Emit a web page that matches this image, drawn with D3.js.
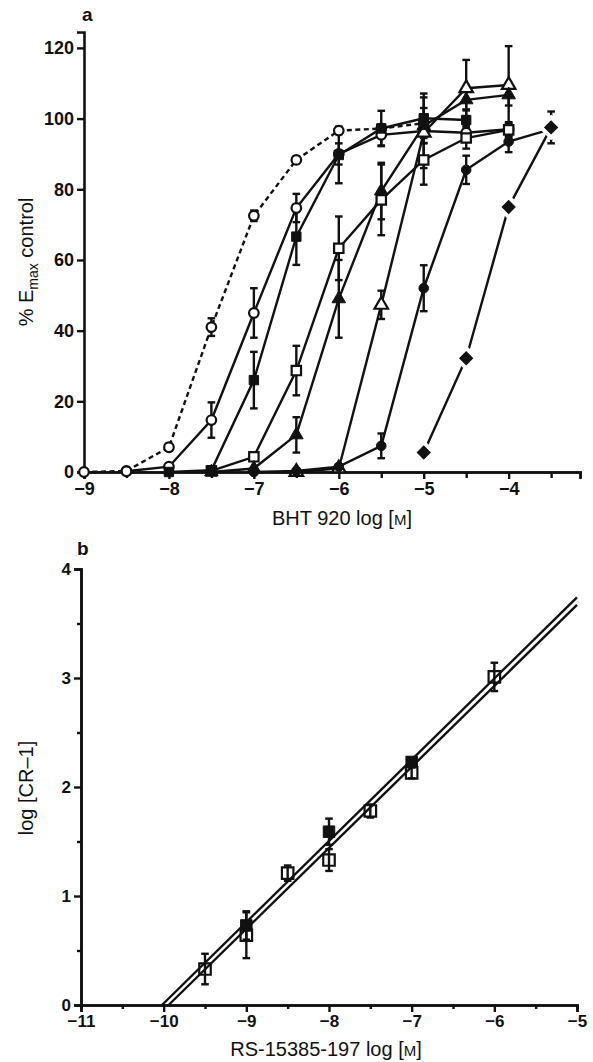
<!DOCTYPE html>
<html>
<head>
<meta charset="utf-8">
<script src="https://cdn.jsdelivr.net/npm/d3@7"></script>
<style>
body { margin: 0; background: #fff; }
text { font-family: "Liberation Sans", Arial, sans-serif; fill: #111; }
.tk text { font-weight: bold; }
</style>
</head>
<body>
<div id="chart"></div>
<script>
// ---- panel a : % Emax control vs BHT 920 log [M]
var ctrlDose = [-9, -8.5, -8, -7.5, -7, -6.5, -6, -5.5, -5];
var ctrlResp = [0, 0.3, 7, 41, 72.5, 88.3, 96.6, 97.2, 98.7];
var ctrlSem  = [0, 0, 1, 2.5, 1.5, 1, 1, 0, 0];

var ocDose = [-8.5, -8, -7.5, -7, -6.5, -6, -5.5, -5, -4.5, -4];
var ocResp = [0.2, 1.5, 14.7, 45, 74.7, 90, 95.4, 96.5, 96, 97];
var ocSem  = [0, 0, 5, 7, 4, 3, 3, 2, 2, 2];

var osDose = [-7.5, -7, -6.5, -6, -5.5, -5, -4.5, -4];
var osResp = [0.3, 4.3, 28.7, 63.3, 77, 88.3, 94.5, 96.8];
var osSem  = [0, 1, 7, 9, 10, 7, 3, 2];

var otDose = [-6.5, -6, -5.5, -5, -4.5, -4];
var otResp = [0, 1, 47.3, 96, 108.6, 109.5];
var otSem  = [0, 0, 4, 10, 8, 11];

var fsDose = [-8, -7.5, -7, -6.5, -6, -5.5, -5, -4.5];
var fsResp = [0, 0.5, 26, 66.6, 89.7, 97.2, 100.1, 99.6];
var fsSem  = [0, 0, 8, 8, 8, 5, 7, 3];

var ftDose = [-7.5, -7, -6.5, -6, -5.5, -5, -4.5, -4];
var ftResp = [0, 1, 10.5, 49, 79.5, 98, 105.3, 106.7];
var ftSem  = [0, 0, 5, 11, 8, 5, 3, 3];

var fcDose = [-7, -6.5, -6, -5.5, -5, -4.5, -4, -3.5];
var fcResp = [0, 0.3, 1.5, 7.4, 52, 85.5, 93.5, 97];
var fcSem  = [0, 0, 0, 3.5, 6.5, 4, 3, 0];

var fdDose = [-5, -4.5, -4, -3.5];
var fdResp = [5.5, 32.2, 75, 97.5];
var fdSem  = [0, 0, 1, 4.5];

var aXTicks = [-9, -8, -7, -6, -5, -4];
var aXMinor = [-8.5, -7.5, -6.5, -5.5, -4.5, -3.5];
var aYTicks = [0, 20, 40, 60, 80, 100, 120];

// ---- panel b : Schild plot
var bOpenDose = [-9.5, -9, -8.5, -8, -7.5, -7, -6];
var bOpenLog  = [0.33, 0.64, 1.21, 1.33, 1.78, 2.13, 3.01];
var bOpenSem  = [0.14, 0.21, 0.07, 0.10, 0.06, 0.05, 0.13];
var bFillDose = [-9, -8, -7];
var bFillLog  = [0.73, 1.59, 2.23];
var bFillSem  = [0.13, 0.12, 0.03];
var fitSlope  = [0.745, 0.743];
var fitXZero  = [-10.02, -9.94];

var bXTicks = [-11, -10, -9, -8, -7, -6, -5];
var bXMinor = [-10.5, -9.5, -8.5, -7.5, -6.5, -5.5];
var bYTicks = [0, 1, 2, 3, 4];
var bYMinor = [0.5, 1.5, 2.5, 3.5];

var W = 593, H = 1062;
var svg = d3.select("#chart").append("svg")
  .attr("width", W).attr("height", H)
  .style("background", "#fff");

var minus = function(d) { return d < 0 ? "\u2212" + Math.abs(d) : String(d); };

// make the d3 axis look like the printed one
function styleAxis(g, size) {
  g.attr("class", "tk").attr("font-size", null).attr("font-family", null);
  g.select(".domain").attr("stroke-width", 2.6).attr("stroke", "#111");
  g.selectAll(".tick line").attr("stroke-width", 2.4).attr("stroke", "#111");
  g.selectAll(".tick text")
    .attr("fill", "#111")
    .style("font-size", size + "px")
    .style("font-weight", "bold")
    .style("font-family", '"Liberation Sans", Arial, sans-serif');
}

// ================= panel a
var xA = d3.scaleLinear().domain([-9, -3.16]).range([84, 580]);
var yA = d3.scaleLinear().domain([0, 124.5]).range([472, 32]);

var ga = svg.append("g");

ga.append("g").attr("transform", "translate(0," + yA(0) + ")")
  .call(d3.axisBottom(xA).tickValues(aXTicks).tickSize(7).tickPadding(3).tickFormat(minus))
  .call(styleAxis, 18);
ga.append("g").attr("transform", "translate(0," + yA(0) + ")")
  .call(d3.axisBottom(xA).tickValues(aXMinor).tickSize(6).tickFormat(""))
  .call(styleAxis, 18);
ga.append("g").attr("transform", "translate(" + xA(-9) + ",0)")
  .call(d3.axisLeft(yA).tickValues(aYTicks).tickSize(7).tickPadding(3).tickFormat(minus))
  .call(styleAxis, 18);

var seriesA = [
  {dose: ctrlDose, resp: ctrlResp, sem: ctrlSem, sym: "circle", fill: "#fff", dash: "5,3.5"},
  {dose: ocDose, resp: ocResp, sem: ocSem, sym: "circle", fill: "#fff"},
  {dose: osDose, resp: osResp, sem: osSem, sym: "square", fill: "#fff"},
  {dose: otDose, resp: otResp, sem: otSem, sym: "triangle", fill: "#fff"},
  {dose: fsDose, resp: fsResp, sem: fsSem, sym: "square", fill: "#111"},
  {dose: ftDose, resp: ftResp, sem: ftSem, sym: "triangle", fill: "#111"},
  {dose: fcDose, resp: fcResp, sem: fcSem, sym: "circle", fill: "#111"},
  {dose: fdDose, resp: fdResp, sem: fdSem, sym: "diamond", fill: "#111"}
];
seriesA.forEach(function(s) {
  s.pts = s.dose.map(function(d, i) { return {x: d, y: s.resp[i], e: s.sem[i]}; });
});

var lineA = d3.line().x(function(p) { return xA(p.x); }).y(function(p) { return yA(p.y); });

// lines
seriesA.forEach(function(s) {
  ga.append("path").datum(s.pts)
    .attr("d", lineA)
    .attr("fill", "none")
    .attr("stroke", "#111")
    .attr("stroke-width", 2.4)
    .attr("stroke-dasharray", s.dash || null);
});

// error bars
function errorBars(g, pts, xs, ys, cap) {
  var eb = g.append("g").attr("stroke", "#111").attr("stroke-width", 2.4);
  pts.filter(function(p) { return p.e > 0; }).forEach(function(p) {
    var cx = xs(p.x), y1 = ys(p.y + p.e), y2 = ys(p.y - p.e);
    eb.append("line").attr("x1", cx).attr("x2", cx).attr("y1", y1).attr("y2", y2);
    eb.append("line").attr("x1", cx - cap).attr("x2", cx + cap).attr("y1", y1).attr("y2", y1);
    eb.append("line").attr("x1", cx - cap).attr("x2", cx + cap).attr("y1", y2).attr("y2", y2);
  });
}
seriesA.forEach(function(s) { errorBars(ga, s.pts, xA, yA, 3.8); });

// markers
var symType = {circle: d3.symbolCircle, square: d3.symbolSquare, triangle: d3.symbolTriangle, diamond: d3.symbolSquare};
var symSize = {circle: 72, square: 88, triangle: 80, diamond: 84};
seriesA.forEach(function(s) {
  var path = d3.symbol().type(symType[s.sym]).size(symSize[s.sym])();
  var rot = s.sym === "diamond" ? " rotate(45)" : "";
  var m = ga.append("g");
  if (s.sym === "diamond") {
    // white halo leaves the small gaps round the diamonds
    m.selectAll("path.halo").data(s.pts).enter().append("path")
      .attr("d", path)
      .attr("transform", function(p) { return "translate(" + xA(p.x) + "," + yA(p.y) + ")" + rot; })
      .attr("fill", "#fff").attr("stroke", "#fff").attr("stroke-width", 9);
  }
  m.selectAll("path.mk").data(s.pts).enter().append("path")
    .attr("d", path)
    .attr("transform", function(p) { return "translate(" + xA(p.x) + "," + yA(p.y) + ")" + rot; })
    .attr("fill", s.fill)
    .attr("stroke", "#111")
    .attr("stroke-width", s.fill === "#fff" ? 2.2 : 1);
});

ga.append("text").attr("x", 82).attr("y", 21)
  .style("font-size", "19px").style("font-weight", "bold").text("a");

ga.append("text").attr("x", 342).attr("y", 525).attr("text-anchor", "middle")
  .style("font-size", "20px")
  .text("BHT 920 log [").append("tspan").style("font-size", "15px").text("M")
  .select(function() { return this.parentNode; }).append("tspan").text("]");

var yt = ga.append("text").attr("transform", "translate(33,262) rotate(-90)")
  .attr("text-anchor", "middle").style("font-size", "20px");
yt.append("tspan").text("% E");
yt.append("tspan").attr("dy", 5).style("font-size", "14px").text("max");
yt.append("tspan").attr("dy", -5).text(" control");

// ================= panel b
var xB = d3.scaleLinear().domain([-11, -5]).range([81, 577]);
var yB = d3.scaleLinear().domain([0, 4]).range([1005, 569]);

var gb = svg.append("g");
gb.append("g").attr("transform", "translate(0," + yB(0) + ")")
  .call(d3.axisBottom(xB).tickValues(bXTicks).tickSize(7).tickPadding(3).tickFormat(minus))
  .call(styleAxis, 17);
gb.append("g").attr("transform", "translate(0," + yB(0) + ")")
  .call(d3.axisBottom(xB).tickValues(bXMinor).tickSize(4).tickFormat(""))
  .call(styleAxis, 17);
gb.append("g").attr("transform", "translate(" + xB(-11) + ",0)")
  .call(d3.axisLeft(yB).tickValues(bYTicks).tickSize(7).tickPadding(3).tickFormat(minus))
  .call(styleAxis, 17);
gb.append("g").attr("transform", "translate(" + xB(-11) + ",0)")
  .call(d3.axisLeft(yB).tickValues(bYMinor).tickSize(4).tickFormat(""))
  .call(styleAxis, 17);

// regression lines
fitSlope.forEach(function(k, i) {
  var x0 = fitXZero[i];
  var pts = [{x: x0, y: 0}, {x: -5, y: k * (-5 - x0)}];
  gb.append("path").datum(pts)
    .attr("d", d3.line().x(function(p) { return xB(p.x); }).y(function(p) { return yB(p.y); }))
    .attr("fill", "none").attr("stroke", "#111").attr("stroke-width", 2.4);
});

var bOpen = bOpenDose.map(function(d, i) { return {x: d, y: bOpenLog[i], e: bOpenSem[i]}; });
var bFill = bFillDose.map(function(d, i) { return {x: d, y: bFillLog[i], e: bFillSem[i]}; });
errorBars(gb, bOpen, xB, yB, 3.8);
errorBars(gb, bFill, xB, yB, 3.8);

var sq = d3.symbol().type(d3.symbolSquare).size(132)();
gb.selectAll("path.op").data(bOpen).enter().append("path")
  .attr("d", sq)
  .attr("transform", function(p) { return "translate(" + xB(p.x) + "," + yB(p.y) + ")"; })
  .attr("fill", "none").attr("stroke", "#111").attr("stroke-width", 2.2);
gb.selectAll("path.fp").data(bFill).enter().append("path")
  .attr("d", sq)
  .attr("transform", function(p) { return "translate(" + xB(p.x) + "," + yB(p.y) + ")"; })
  .attr("fill", "#111").attr("stroke", "#111").attr("stroke-width", 1);

gb.append("text").attr("x", 77).attr("y", 555)
  .style("font-size", "19px").style("font-weight", "bold").text("b");

gb.append("text").attr("x", 326).attr("y", 1056).attr("text-anchor", "middle")
  .style("font-size", "20px")
  .text("RS-15385-197 log [").append("tspan").style("font-size", "15px").text("M")
  .select(function() { return this.parentNode; }).append("tspan").text("]");

gb.append("text").attr("transform", "translate(33,788) rotate(-90)")
  .attr("text-anchor", "middle").style("font-size", "20px")
  .text("log [CR\u20131]");
</script>
</body>
</html>
